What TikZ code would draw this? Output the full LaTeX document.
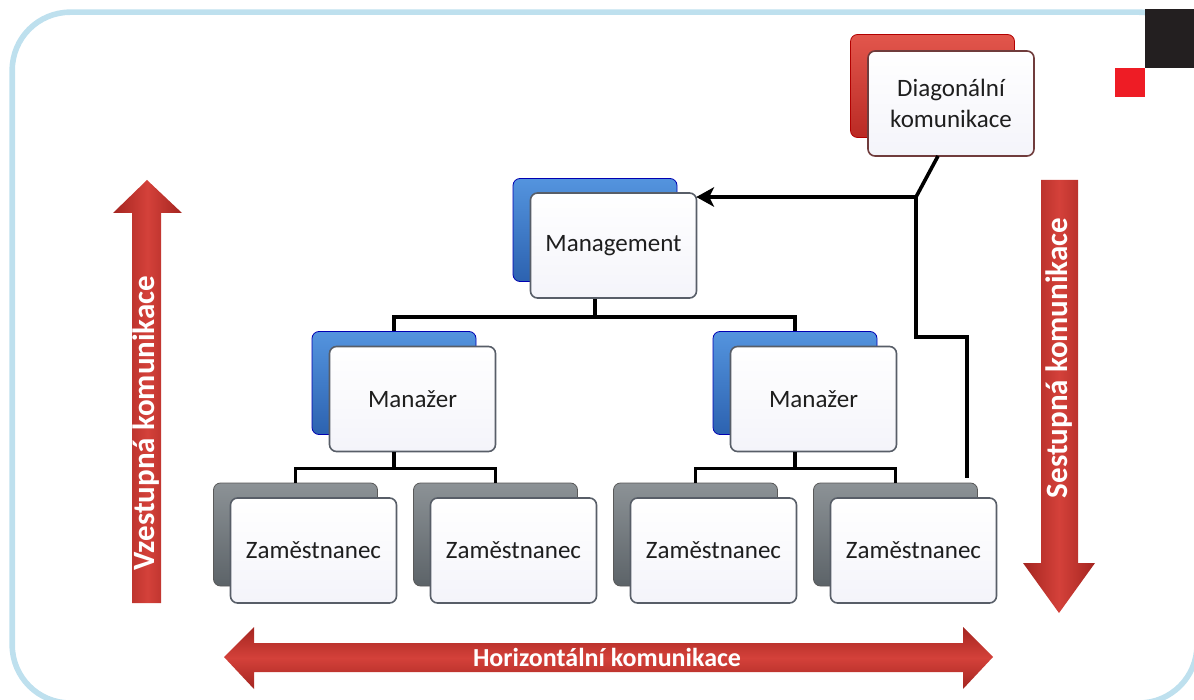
\documentclass[tikz,border=0pt]{standalone}
\usepackage{fontspec}
\setmainfont{Carlito}
\usetikzlibrary{arrows.meta}
\definecolor{frameblue}{HTML}{BEE0EE}
\definecolor{arrowred}{HTML}{D4413A}
\definecolor{arrowdark}{HTML}{A42520}
\definecolor{logored}{HTML}{EE1C25}
\definecolor{logoblack}{HTML}{231F20}
\tikzset{
  backcard/.style={rounded corners=7pt, minimum width=164pt, minimum height=103pt, inner sep=0pt, draw=#1!70!black, line width=0.8pt},
  bluecard/.style={backcard=blue, top color={rgb,255:red,84;green,148;blue,222}, bottom color={rgb,255:red,44;green,98;blue,176}},
  graycard/.style={backcard=gray, top color={rgb,255:red,140;green,146;blue,150}, bottom color={rgb,255:red,92;green,99;blue,104}},
  redcard/.style={backcard=red, top color={rgb,255:red,226;green,86;blue,76}, bottom color={rgb,255:red,186;green,42;blue,36}},
  frontcard/.style={rounded corners=7pt, minimum width=166pt, minimum height=105pt, inner sep=0pt, draw={rgb,255:red,88;green,94;blue,104}, line width=1.6pt, top color=white, bottom color={rgb,255:red,244;green,244;blue,250}, font=\fontsize{25}{30.5}\selectfont, text={rgb,255:red,30;green,30;blue,30}, align=center},
  link/.style={line width=3.6pt, black},
  bigarrow/.style={left color=arrowdark, right color=arrowdark, middle color=arrowred, draw=none},
  arrowtext/.style={text=white, font=\bfseries},
}
\begin{document}
\begin{tikzpicture}[x=1pt,y=-1pt]
\useasboundingbox (0,0) rectangle (1194,700);
% frame
\begin{scope}
\clip (0,0) rectangle (1194,700);
\draw[frameblue, line width=5.6pt, rounded corners=58pt] (12.2,12.2) rectangle (1197,703);
\end{scope}
% logo squares
\fill[logoblack] (1145,9) rectangle (1194,68);
\fill[logored] (1115,68) rectangle (1145,97);

% cards: back then front
\node[bluecard] (mgmtB) at (595,230) {};
\node[frontcard] (mgmt) at (613.5,245.5) {Management};
\node[bluecard] (manLB) at (394,383) {};
\node[frontcard] (manL) at (412.5,399) {Manažer};
\node[bluecard] (manRB) at (795,383) {};
\node[frontcard] (manR) at (813.5,399) {Manažer};
\node[graycard] (z1B) at (295.5,534.5) {};
\node[frontcard] (z1) at (313.5,550.5) {Zaměstnanec};
\node[graycard] (z2B) at (495.5,534.5) {};
\node[frontcard] (z2) at (513.5,550.5) {Zaměstnanec};
\node[graycard] (z3B) at (695.5,534.5) {};
\node[frontcard] (z3) at (713.5,550.5) {Zaměstnanec};
\node[graycard] (z4B) at (895.5,534.5) {};
\node[frontcard] (z4) at (913.5,550.5) {Zaměstnanec};
\node[redcard] (diagB) at (932.5,86) {};
\node[frontcard, draw={rgb,255:red,112;green,60;blue,60}] (diag) at (951,103.5) {Diagonální\\komunikace};

% tree connectors
\draw[link] (mgmtB.center |- mgmt.south) -- ++(0,18) -| (manLB.north);
\draw[link] (mgmtB.center |- mgmt.south) ++(0,18) -| (manRB.north);
\draw[link] (manLB.center |- manL.south) -- ++(0,16) -| (z1B.north);
\draw[link] (manLB.center |- manL.south) ++(0,16) -| (z2B.north);
\draw[link] (manRB.center |- manR.south) -- ++(0,16) -| (z3B.north);
\draw[link] (manRB.center |- manR.south) ++(0,16) -| (z4B.north);

% diagonal connectors
\coordinate (dtop) at (938,156);
\coordinate (djoin) at (916,197);
\coordinate (dstep) at (916,337);
\coordinate (dend) at (967,478);
\coordinate (dtip) at ([xshift=9pt]mgmt.east |- djoin);
\draw[link] (dtop) -- (djoin) -- (dtip);
\draw[link, line cap=butt] (djoin) -- (dstep) -| (dend);
\fill (dtip) ++(-10,0) -- ++(18,-10) -- ++(-5,10) -- ++(5,10) -- cycle;

% big red arrows
\path[bigarrow] (132,603) -- (132,213) -- (113,213) -- (147,180) -- (182,213) -- (161,213) -- (161,603) -- cycle;
\node[arrowtext, rotate=90, font=\bfseries\fontsize{31}{34}\selectfont] (up) at (146.5,423) {Vzestupná komunikace};
\path[bigarrow] (1041,180) -- (1041,563) -- (1023,563) -- (1059,613) -- (1095,563) -- (1078,563) -- (1078,180) -- cycle;
\node[arrowtext, rotate=90, font=\bfseries\fontsize{31}{34}\selectfont] (down) at (1059.5,358) {Sestupná komunikace};
\path[top color=arrowdark, bottom color=arrowdark, middle color=arrowred] (224,657) -- (254,627) -- (254,643) -- (963,643) -- (963,627) -- (993,657) -- (963,689) -- (963,672) -- (254,672) -- (254,689) -- cycle;
\node[arrowtext, font=\bfseries\fontsize{26}{30}\selectfont] (horiz) at (607,657) {Horizontální komunikace};
\end{tikzpicture}
\end{document}
